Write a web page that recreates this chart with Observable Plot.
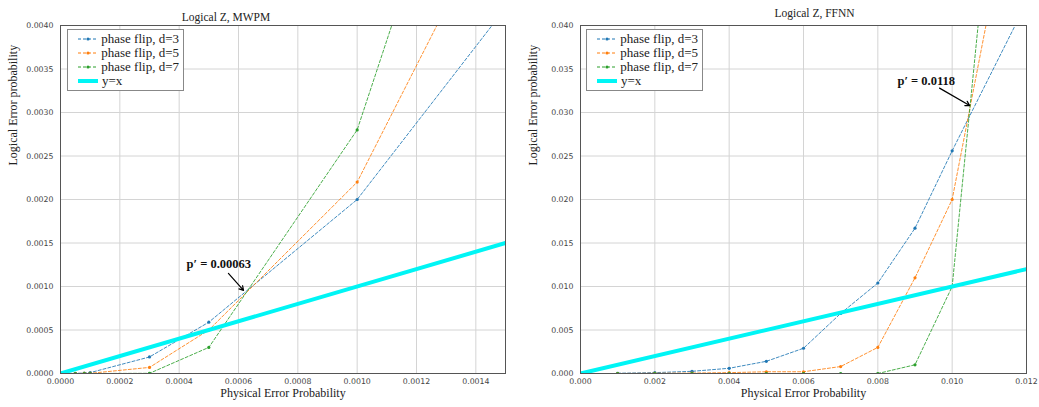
<!DOCTYPE html>
<html><head><meta charset="utf-8">
<script src="https://cdn.jsdelivr.net/npm/d3@7"></script>
<script src="https://cdn.jsdelivr.net/npm/@observablehq/plot@0.6"></script>
<style>
body{margin:0;background:#fff}
#wrap{position:relative;width:1039px;height:407px;display:flex;overflow:hidden}
.legend{position:absolute;border:1px solid #888;background:#fff;font:13px "Liberation Serif",serif;color:#222;padding:2px 4px 2px 10px;box-sizing:border-box}
.legend .row{display:flex;align-items:center;height:14px;white-space:nowrap}
.legend svg{margin-right:3px}
</style></head><body>
<div id="wrap"></div>
<script>
// ---- data ----
const seriesNames = ["phase flip, d=3", "phase flip, d=5", "phase flip, d=7"];
const seriesColors = ["#1f77b4", "#ff7f0e", "#2ca02c"];
const diagLabel = "y=x";

// MWPM panel
const mwpmTitle = "Logical Z, MWPM";
const mwpmP = [0.00001, 0.00005, 0.00008, 0.0001, 0.0003, 0.0005, 0.001, 0.002];
const mwpmD3 = [0, 0.000002, 0.000005, 0.00001, 0.00019, 0.00059, 0.0020, 0.0064];
const mwpmD5 = [0, 0, 0.000001, 0.000002, 0.00007, 0.00050, 0.0022, 0.0089];
const mwpmD7 = [0, 0, 0, 0, 0.000002, 0.0003, 0.0028, 0.0131];
const mwpmDiag = [0, 0.0015];
const mwpmXTicks = [0, 0.0002, 0.0004, 0.0006, 0.0008, 0.0010, 0.0012, 0.0014];
const mwpmYTicks = [0, 0.0005, 0.0010, 0.0015, 0.0020, 0.0025, 0.0030, 0.0035, 0.0040];
const mwpmNote = "p\u2032 = 0.00063";
const mwpmNotePos = [0.000425, 0.00126];
const mwpmArrow = [0.000566, 0.00115, 0.000617, 0.000955];

// FFNN panel
const ffnnTitle = "Logical Z, FFNN";
const ffnnP = [0.001, 0.002, 0.003, 0.004, 0.005, 0.006, 0.007, 0.008, 0.009, 0.010, 0.012];
const ffnnD3 = [0.00003, 0.0001, 0.00025, 0.0006, 0.0014, 0.0029, 0.0069, 0.0104, 0.0167, 0.0256, 0.0426];
const ffnnD5 = [0, 0.00003, 0.00005, 0.0001, 0.0002, 0.0002, 0.0008, 0.0030, 0.0110, 0.0200, 0.064];
const ffnnD7 = [0, 0, 0, 0, 0, 0, 0, 0, 0.0010, 0.0100, 0.096];
const ffnnDiag = [0, 0.012];
const ffnnXTicks = [0, 0.002, 0.004, 0.006, 0.008, 0.010, 0.012];
const ffnnYTicks = [0, 0.005, 0.010, 0.015, 0.020, 0.025, 0.030, 0.035, 0.040];
const ffnnNote = "p\u2032 = 0.0118";
const ffnnNotePos = [0.00853, 0.0336];
const ffnnArrow = [0.00966, 0.0328, 0.01047, 0.0308];

const xLabel = "Physical Error Probability";
const yLabel = "Logical Error probability";

function table(p, ys) {
  const rows = [];
  ys.forEach((vals, i) => vals.forEach((v, j) => rows.push({p: p[j], v, s: seriesNames[i]})));
  return rows;
}

function panel(cfg) {
  const rows = table(cfg.p, cfg.ys);
  const diag = cfg.diag.map(d => ({p: d, v: d}));
  const serif = "Liberation Serif, serif";
  return Plot.plot({
    width: cfg.width, height: 407,
    marginLeft: 60, marginRight: cfg.mr, marginTop: 25, marginBottom: 34,
    x: {domain: [cfg.xTicks[0], cfg.diag[1]]},
    y: {domain: [cfg.yTicks[0], cfg.yTicks[cfg.yTicks.length - 1]]},
    color: {domain: seriesNames, range: seriesColors},
    style: {fontFamily: "DejaVu Sans, sans-serif", background: "#fff"},
    marks: [
      Plot.gridX(cfg.xTicks, {stroke: "#d4d4d4", strokeOpacity: 1, strokeWidth: 1}),
      Plot.gridY(cfg.yTicks, {stroke: "#d4d4d4", strokeOpacity: 1, strokeWidth: 1}),
      Plot.axisX(cfg.xTicks, {tickFormat: d3.format(cfg.fmt), tickSize: 0, tickPadding: 5, fontSize: 7.8, fill: "#444", label: null}),
      Plot.axisY(cfg.yTicks, {tickFormat: d3.format(cfg.fmt), tickSize: 0, tickPadding: 7, fontSize: 7.8, fill: "#444", label: null}),
      Plot.line(rows, {x: "p", y: "v", z: "s", stroke: "s", strokeWidth: 1, strokeDasharray: "3,2", strokeOpacity: 0.85, clip: true}),
      Plot.dot(rows, {x: "p", y: "v", fill: "s", r: 1.6, clip: true}),
      Plot.line(diag, {x: "p", y: "v", stroke: "#00f5f5", strokeWidth: 4, clip: true}),
      Plot.frame({stroke: "#555", strokeWidth: 1}),
      Plot.arrow([cfg.arrow], {x1: d => d[0], y1: d => d[1], x2: d => d[2], y2: d => d[3], stroke: "#000", strokeWidth: 1.2, headLength: 6, bend: 0}),
      Plot.text([cfg.note], {x: () => cfg.notePos[0], y: () => cfg.notePos[1], text: d => d, textAnchor: "start", fontFamily: serif, fontWeight: "bold", fontSize: 12.5, fill: "#111"}),
      Plot.text([cfg.title], {frameAnchor: "top", dy: cfg.titleDy, dx: cfg.titleDx, text: d => d, fontFamily: serif, fontSize: 11.5, fill: "#222"}),
      Plot.text([xLabel], {frameAnchor: "bottom", dy: 23, text: d => d, fontFamily: serif, fontSize: 12, fill: "#222"}),
      Plot.text([yLabel], {frameAnchor: "left", dx: -47, dy: -34, rotate: -90, text: d => d, fontFamily: serif, fontSize: 12, fill: "#222"})
    ]
  });
}

function legend(left, top) {
  const div = document.createElement("div");
  div.className = "legend";
  div.style.left = left + "px"; div.style.top = top + "px";
  div.style.width = "117px"; div.style.height = "62px";
  const items = seriesNames.map((n, i) => ({n, c: seriesColors[i], diag: false})).concat([{n: diagLabel, c: "#00f5f5", diag: true}]);
  for (const it of items) {
    const row = document.createElement("div");
    row.className = "row";
    const sw = it.diag
      ? `<svg width="21" height="8"><line x1="0" y1="4" x2="20" y2="4" stroke="${it.c}" stroke-width="4"/></svg>`
      : `<svg width="21" height="8"><line x1="0" y1="4" x2="20" y2="4" stroke="${it.c}" stroke-width="1" stroke-dasharray="3,2"/><circle cx="10" cy="4" r="1.6" fill="${it.c}"/></svg>`;
    row.innerHTML = sw + `<span>${it.n}</span>`;
    div.appendChild(row);
  }
  return div;
}

const wrap = document.getElementById("wrap");
wrap.appendChild(panel({width: 520, mr: 15, p: mwpmP, ys: [mwpmD3, mwpmD5, mwpmD7], diag: mwpmDiag,
  xTicks: mwpmXTicks, yTicks: mwpmYTicks, fmt: ".4f", note: mwpmNote, notePos: mwpmNotePos, arrow: mwpmArrow,
  title: mwpmTitle, titleDy: -13, titleDx: -57}));
wrap.appendChild(panel({width: 519, mr: 13, p: ffnnP, ys: [ffnnD3, ffnnD5, ffnnD7], diag: ffnnDiag,
  xTicks: ffnnXTicks, yTicks: ffnnYTicks, fmt: ".3f", note: ffnnNote, notePos: ffnnNotePos, arrow: ffnnArrow,
  title: ffnnTitle, titleDy: -17, titleDx: 11}));
wrap.appendChild(legend(67, 29));
wrap.appendChild(legend(586, 29));
</script>
</body></html>
